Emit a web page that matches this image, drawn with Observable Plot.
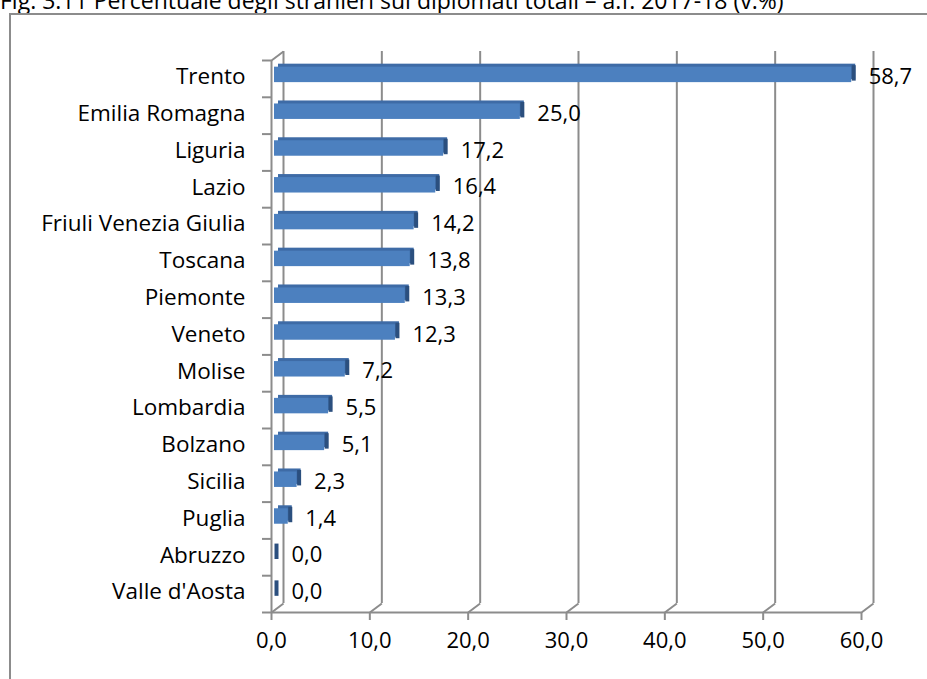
<!DOCTYPE html>
<html>
<head>
<meta charset="utf-8">
<script src="https://cdn.jsdelivr.net/npm/d3@7"></script>
<script src="https://cdn.jsdelivr.net/npm/@observablehq/plot@0.6"></script>
<style>
  html, body { margin: 0; padding: 0; background: #fff; overflow: hidden; }
  #wrap { position: relative; width: 927px; height: 679px; overflow: hidden; }
  #title { position: absolute; left: 0; top: -16px; font: 23px "Open Sans", sans-serif; color: #000; white-space: nowrap; }
  #frame { position: absolute; left: 9px; top: 13px; width: 1000px; height: 800px; border: 2px solid #8c8c8c; }
  #chart { position: absolute; left: 0; top: 0; }
</style>
</head>
<body>
<div id="wrap">
  <div id="title">Fig. 3.11 Percentuale degli stranieri sui diplomati totali – a.f. 2017-18 (v.%)</div>
  <div id="frame"></div>
  <div id="chart"></div>
</div>
<script>
const regions = ["Trento", "Emilia Romagna", "Liguria", "Lazio", "Friuli Venezia Giulia", "Toscana", "Piemonte", "Veneto", "Molise", "Lombardia", "Bolzano", "Sicilia", "Puglia", "Abruzzo", "Valle d'Aosta"];
const values = [58.7, 25.0, 17.2, 16.4, 14.2, 13.8, 13.3, 12.3, 7.2, 5.5, 5.1, 2.3, 1.4, 0.0, 0.0];
const xTicks = [0, 10, 20, 30, 40, 50, 60];

const data = regions.map((r, i) => ({region: r, value: values[i], i}));
const fmt = d => d.toFixed(1).replace(".", ",");
const n = regions.length;
const DX = 1.22, DY = 0.245; // depth offset in data units
const H = 0.21;
const grey = "#8c8c8c";

const chart = Plot.plot({
  width: 927,
  height: 679,
  marginLeft: 271,
  marginRight: 66,
  marginTop: 60,
  marginBottom: 67,
  x: {domain: [0, 60]},
  y: {domain: [0, n], reverse: true},
  style: {fontFamily: "Open Sans, sans-serif", fontSize: "22px", color: "#000", background: "transparent", overflow: "visible"},
  marks: [
    Plot.ruleX(xTicks, {x: d => d, y1: 0, y2: n, dx: 12, dy: -9, stroke: grey, strokeWidth: 2}),
    Plot.link(xTicks, {x1: d => d, y1: n, x2: d => d + DX, y2: n - DY, stroke: grey, strokeWidth: 2}),
    Plot.link([0], {x1: 0, y1: 0, x2: DX, y2: -DY, stroke: grey, strokeWidth: 2}),
    Plot.ruleY([n], {x1: 0, x2: 60, stroke: grey, strokeWidth: 2}),
    Plot.ruleX([0], {y1: 0, y2: n, stroke: grey, strokeWidth: 2}),
    Plot.rect(data, {x1: 0, x2: "value", y1: d => d.i + 0.5 - H, y2: d => d.i + 0.5 + H, dx: 7, dy: -7, fill: "#3e6ba6"}),
    Plot.ruleX(data, {x: "value", y1: d => d.i + 0.5 - H, y2: d => d.i + 0.5 + H, dx: 5, dy: -5.5, stroke: "#2b4f7e", strokeWidth: 4}),
    Plot.rect(data, {x1: 0, x2: "value", y1: d => d.i + 0.5 - H, y2: d => d.i + 0.5 + H, dx: 3, dy: -4, fill: "#4c80bf"}),
    Plot.text(data, {x: "value", y: d => d.i + 0.5, text: d => fmt(d.value), dx: 20, dy: -2, textAnchor: "start", fontSize: 22, fill: "#000"}),
    Plot.text(data, {x: 0, y: d => d.i + 0.5, text: "region", dx: -26, dy: -2, textAnchor: "end", fontSize: 22.5, fill: "#000"}),
    Plot.axisX({ticks: xTicks, tickSize: 8, tickPadding: 12, tickFormat: fmt, stroke: grey, strokeWidth: 2, fontSize: 22, label: null}),
    Plot.axisY({ticks: d3.range(n + 1), tickSize: 9, tickFormat: () => "", stroke: grey, strokeWidth: 2, label: null})
  ]
});
document.getElementById("chart").appendChild(chart);
</script>
</body>
</html>
